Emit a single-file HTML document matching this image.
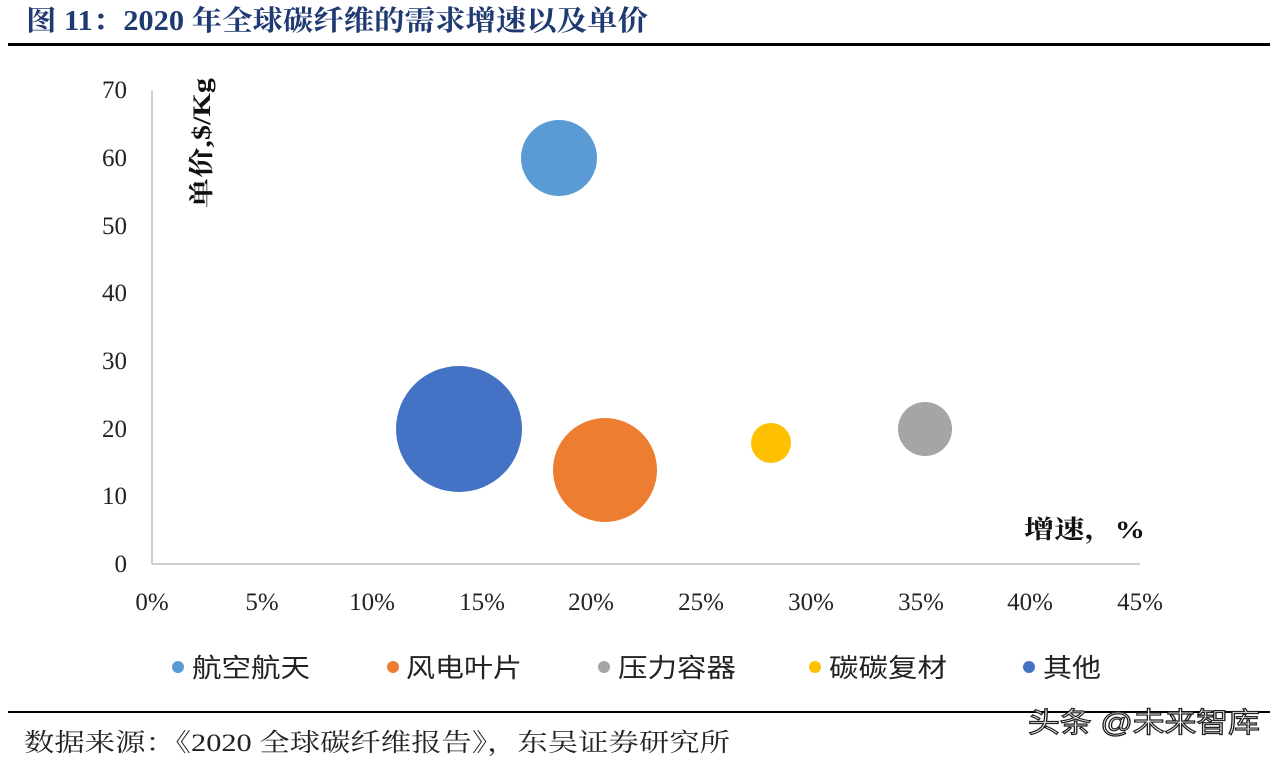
<!DOCTYPE html>
<html><head><meta charset="utf-8"><style>
html,body{margin:0;padding:0;background:#fff;}
svg{display:block;}
</style></head><body>
<svg width="1282" height="760" xmlns="http://www.w3.org/2000/svg" font-family="'Liberation Serif','Noto Serif CJK SC',serif">
<text x="26" y="30" font-size="28" font-weight="bold" fill="#1f3a72" textLength="622" lengthAdjust="spacingAndGlyphs">图 11：2020 年全球碳纤维的需求增速以及单价</text>
<rect x="8" y="43" width="1262" height="3" fill="#000"/>
<line x1="152" y1="90" x2="152" y2="564" stroke="#bfbfbf" stroke-width="1.5"/>
<line x1="152" y1="564" x2="1140" y2="564" stroke="#bfbfbf" stroke-width="1.5"/>
<g font-size="25" fill="#222" text-anchor="end">
<text x="127" y="98">70</text><text x="127" y="166">60</text><text x="127" y="234">50</text>
<text x="127" y="301">40</text><text x="127" y="369">30</text><text x="127" y="437">20</text>
<text x="127" y="504">10</text><text x="127" y="572">0</text>
</g>
<g font-size="25" fill="#222" text-anchor="middle">
<text x="152" y="610">0%</text><text x="262" y="610">5%</text><text x="372" y="610">10%</text>
<text x="482" y="610">15%</text><text x="591" y="610">20%</text><text x="701" y="610">25%</text>
<text x="811" y="610">30%</text><text x="921" y="610">35%</text><text x="1030" y="610">40%</text>
<text x="1140" y="610">45%</text>
</g>
<text transform="translate(210,208) rotate(-90)" font-size="25" font-weight="bold" fill="#111" textLength="130" lengthAdjust="spacingAndGlyphs">单价,$/Kg</text>
<text x="1024" y="538" font-size="25" font-weight="bold" fill="#111" textLength="121" lengthAdjust="spacingAndGlyphs">增速，%</text>
<circle cx="559" cy="158" r="38" fill="#5b9bd5"/>
<circle cx="459" cy="429" r="63" fill="#4472c4"/>
<circle cx="605" cy="470" r="52" fill="#ed7d31"/>
<circle cx="771" cy="443" r="20" fill="#ffc000"/>
<circle cx="925" cy="429" r="27" fill="#a5a5a5"/>
<g font-size="26" fill="#222" font-family="'Liberation Sans','Noto Sans CJK SC',sans-serif">
<circle cx="178" cy="667" r="6" fill="#5b9bd5"/><text x="192" y="677" textLength="118" lengthAdjust="spacingAndGlyphs">航空航天</text>
<circle cx="393" cy="667" r="6" fill="#ed7d31"/><text x="406" y="677" textLength="116" lengthAdjust="spacingAndGlyphs">风电叶片</text>
<circle cx="604" cy="667" r="6" fill="#a5a5a5"/><text x="618" y="677" textLength="118" lengthAdjust="spacingAndGlyphs">压力容器</text>
<circle cx="815" cy="667" r="6" fill="#ffc000"/><text x="829" y="677" textLength="118" lengthAdjust="spacingAndGlyphs">碳碳复材</text>
<circle cx="1029" cy="667" r="6" fill="#4472c4"/><text x="1043" y="677" textLength="58" lengthAdjust="spacingAndGlyphs">其他</text>
</g>
<rect x="8" y="711" width="1262" height="2" fill="#000"/>
<text x="24" y="751" font-size="25" fill="#222" textLength="706" lengthAdjust="spacingAndGlyphs">数据来源：《2020 全球碳纤维报告》，东吴证券研究所</text>
<text x="1028" y="732" font-size="28" fill="#fff" stroke="#222" stroke-width="1.2" font-family="'Liberation Sans','Noto Sans CJK SC',sans-serif" textLength="232" lengthAdjust="spacingAndGlyphs">头条 @未来智库</text>
</svg>
</body></html>
